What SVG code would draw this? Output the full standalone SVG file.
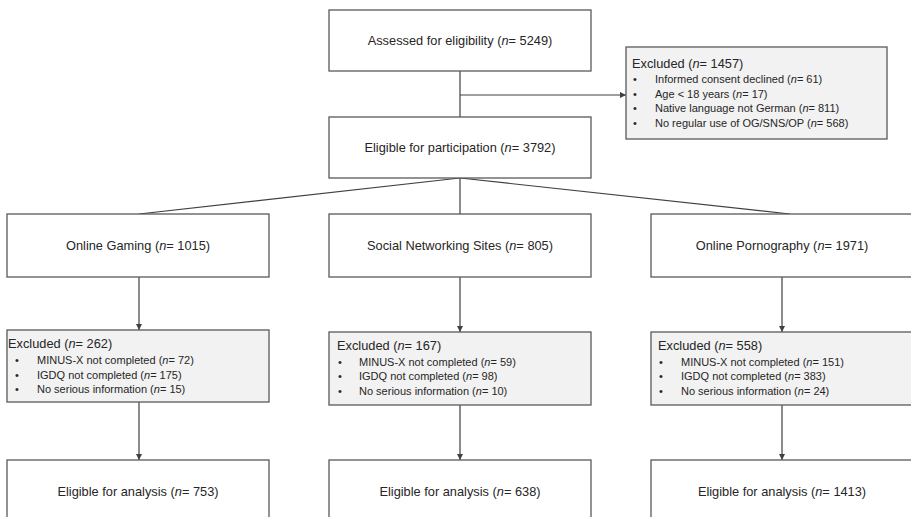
<svg xmlns="http://www.w3.org/2000/svg" width="911" height="517" viewBox="0 0 911 517">
<defs>
<marker id="arr" markerWidth="6" markerHeight="6" refX="6" refY="3" orient="auto" markerUnits="userSpaceOnUse">
<path d="M0,0 L6,3 L0,6 Z" fill="#404040"/>
</marker>
</defs>
<style>
.box{fill:#ffffff;stroke:#595959;stroke-width:1.3}
.ex{fill:#f2f2f2;stroke:#595959;stroke-width:1.3}
.t{font-family:"Liberation Sans",Arial,sans-serif;font-size:12.8px;fill:#262626;text-anchor:middle}
.h{font-family:"Liberation Sans",Arial,sans-serif;font-size:12.8px;fill:#262626}
.b{font-family:"Liberation Sans",Arial,sans-serif;font-size:11px;fill:#262626}
.c{stroke:#404040;stroke-width:1.2;fill:none}
</style>
<rect width="911" height="517" fill="#ffffff"/>
<g id="connectors">
<line class="c" x1="460" y1="71" x2="460" y2="117"/>
<line class="c" x1="460" y1="95" x2="626" y2="95" marker-end="url(#arr)"/>
<line class="c" x1="460" y1="178" x2="139" y2="214"/>
<line class="c" x1="460" y1="178" x2="460" y2="214"/>
<line class="c" x1="460" y1="178" x2="790" y2="214"/>
<line class="c" x1="139" y1="277" x2="139" y2="330" marker-end="url(#arr)"/>
<line class="c" x1="460" y1="277" x2="460" y2="332" marker-end="url(#arr)"/>
<line class="c" x1="782" y1="277" x2="782" y2="332" marker-end="url(#arr)"/>
<line class="c" x1="139" y1="402" x2="139" y2="460" marker-end="url(#arr)"/>
<line class="c" x1="460" y1="405" x2="460" y2="460" marker-end="url(#arr)"/>
<line class="c" x1="782" y1="405" x2="782" y2="460" marker-end="url(#arr)"/>
</g>
<g id="assessed">
<rect class="box" x="329" y="10" width="262" height="61"/>
<text class="t" x="460" y="45">Assessed for eligibility (<tspan font-style="italic">n</tspan>= 5249)</text>
</g>
<g id="excluded-top">
<rect class="ex" x="626" y="47" width="261" height="92"/>
<text class="h" x="632" y="68">Excluded (<tspan font-style="italic">n</tspan>= 1457)</text>
<text class="b" x="633" y="83">•</text><text class="b" x="655" y="83">Informed consent declined (<tspan font-style="italic">n</tspan>= 61)</text>
<text class="b" x="633" y="97.5">•</text><text class="b" x="655" y="97.5">Age &lt; 18 years (<tspan font-style="italic">n</tspan>= 17)</text>
<text class="b" x="633" y="112">•</text><text class="b" x="655" y="112">Native language not German (<tspan font-style="italic">n</tspan>= 811)</text>
<text class="b" x="633" y="126.5">•</text><text class="b" x="655" y="126.5">No regular use of OG/SNS/OP (<tspan font-style="italic">n</tspan>= 568)</text>
</g>
<g id="eligible-participation">
<rect class="box" x="329" y="117" width="262" height="61"/>
<text class="t" x="460" y="152">Eligible for participation (<tspan font-style="italic">n</tspan>= 3792)</text>
</g>
<g id="og">
<rect class="box" x="7" y="214" width="262" height="63"/>
<text class="t" x="138" y="250">Online Gaming (<tspan font-style="italic">n</tspan>= 1015)</text>
</g>
<g id="sns">
<rect class="box" x="329" y="214" width="262" height="63"/>
<text class="t" x="460" y="250">Social Networking Sites (<tspan font-style="italic">n</tspan>= 805)</text>
</g>
<g id="op">
<rect class="box" x="651" y="214" width="262" height="63"/>
<text class="t" x="782" y="250">Online Pornography (<tspan font-style="italic">n</tspan>= 1971)</text>
</g>
<g id="og-excluded">
<rect class="ex" x="7" y="330" width="262" height="72"/>
<text class="h" x="8" y="348">Excluded (<tspan font-style="italic">n</tspan>= 262)</text>
<text class="b" x="15" y="364">•</text><text class="b" x="37" y="364">MINUS-X not completed (<tspan font-style="italic">n</tspan>= 72)</text>
<text class="b" x="15" y="378.5">•</text><text class="b" x="37" y="378.5">IGDQ not completed (<tspan font-style="italic">n</tspan>= 175)</text>
<text class="b" x="15" y="393">•</text><text class="b" x="37" y="393">No serious information (<tspan font-style="italic">n</tspan>= 15)</text>
</g>
<g id="sns-excluded">
<rect class="ex" x="329" y="332" width="262" height="73"/>
<text class="h" x="337" y="350">Excluded (<tspan font-style="italic">n</tspan>= 167)</text>
<text class="b" x="338" y="365.5">•</text><text class="b" x="359" y="365.5">MINUS-X not completed (<tspan font-style="italic">n</tspan>= 59)</text>
<text class="b" x="338" y="380">•</text><text class="b" x="359" y="380">IGDQ not completed (<tspan font-style="italic">n</tspan>= 98)</text>
<text class="b" x="338" y="394.5">•</text><text class="b" x="359" y="394.5">No serious information (<tspan font-style="italic">n</tspan>= 10)</text>
</g>
<g id="op-excluded">
<rect class="ex" x="651" y="332" width="262" height="73"/>
<text class="h" x="658" y="350">Excluded (<tspan font-style="italic">n</tspan>= 558)</text>
<text class="b" x="659" y="365.5">•</text><text class="b" x="681" y="365.5">MINUS-X not completed (<tspan font-style="italic">n</tspan>= 151)</text>
<text class="b" x="659" y="380">•</text><text class="b" x="681" y="380">IGDQ not completed (<tspan font-style="italic">n</tspan>= 383)</text>
<text class="b" x="659" y="394.5">•</text><text class="b" x="681" y="394.5">No serious information (<tspan font-style="italic">n</tspan>= 24)</text>
</g>
<g id="og-analysis">
<rect class="box" x="7" y="460" width="262" height="62"/>
<text class="t" x="138" y="496">Eligible for analysis (<tspan font-style="italic">n</tspan>= 753)</text>
</g>
<g id="sns-analysis">
<rect class="box" x="329" y="460" width="262" height="62"/>
<text class="t" x="460" y="496">Eligible for analysis (<tspan font-style="italic">n</tspan>= 638)</text>
</g>
<g id="op-analysis">
<rect class="box" x="651" y="460" width="262" height="62"/>
<text class="t" x="782" y="496">Eligible for analysis (<tspan font-style="italic">n</tspan>= 1413)</text>
</g>
</svg>
